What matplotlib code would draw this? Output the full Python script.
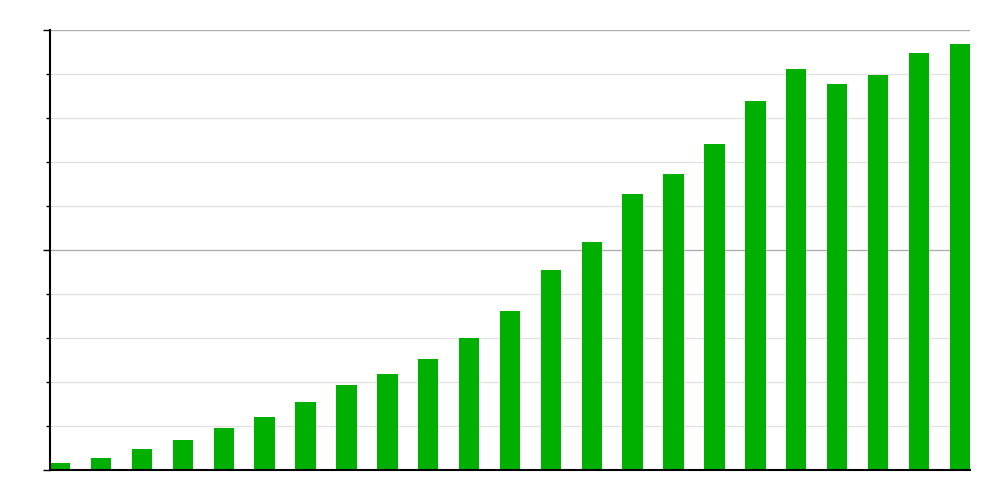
import matplotlib
matplotlib.use("Agg")
import matplotlib.pyplot as plt
from matplotlib.ticker import MultipleLocator, NullFormatter

# Values (axis 0..10, no labels shown)
positions = list(range(23))
values = [0.16, 0.27, 0.48, 0.68, 0.95, 1.20, 1.55, 1.93, 2.18, 2.52,
          3.00, 3.61, 4.55, 5.18, 6.27, 6.73, 7.41, 8.39, 9.11, 8.77,
          8.98, 9.48, 9.68]

BAR = "#00b000"
MAJOR_GRID, MINOR_GRID = "#b0b0b0", "#e3e3e3"

fig = plt.figure(figsize=(10, 5), dpi=100)
ax = fig.add_axes([0.05, 0.06, 0.92, 0.88])

ax.bar(positions, values, width=0.5, align="edge", color=BAR, linewidth=0)
ax.set_xlim(0, 22.5)
ax.set_ylim(0, 10)

ax.yaxis.set_major_locator(MultipleLocator(5))
ax.yaxis.set_minor_locator(MultipleLocator(1))
ax.yaxis.set_major_formatter(NullFormatter())
ax.set_xticks([])
ax.tick_params(axis="y", which="major", length=5, width=1, color="black")
ax.tick_params(axis="y", which="minor", length=3, width=1, color="black")

ax.grid(axis="y", which="major", color=MAJOR_GRID, linewidth=1)
ax.grid(axis="y", which="minor", color=MINOR_GRID, linewidth=1)
ax.set_axisbelow(True)

for side in ("top", "right"):
    ax.spines[side].set_visible(False)
for side in ("left", "bottom"):
    ax.spines[side].set_color("black")
    ax.spines[side].set_linewidth(1.5)

fig.savefig("out.png", dpi=100)
